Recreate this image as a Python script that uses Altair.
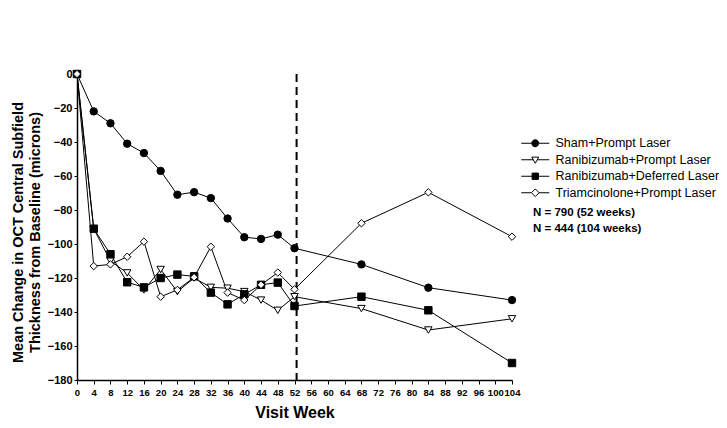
import altair as alt
import pandas as pd

weeks = [0, 4, 8, 12, 16, 20, 24, 28, 32, 36, 40, 44, 48, 52, 68, 84, 104]
series_names = [
    "Sham+Prompt Laser",
    "Ranibizumab+Prompt Laser",
    "Ranibizumab+Deferred Laser",
    "Triamcinolone+Prompt Laser",
]
sham = [0, -22, -29, -41, -46.5, -57, -71, -69.5, -73, -85, -96, -97, -94.5, -102.5, -112, -125.7, -133]
rani_prompt = [0, -91, -110, -117, -127, -115, -128, -120, -125.5, -126, -128, -133, -139, -131, -138, -150.6, -144]
rani_deferred = [0, -91, -106, -122.5, -125.5, -120, -118, -119, -128.6, -135.5, -129.6, -124, -122.7, -136.5, -131, -139, -170]
triam = [0, -113, -112, -107.5, -98.6, -131, -127, -119.6, -101.6, -128.6, -133, -124, -116.8, -126.7, -87.8, -69.6, -95.7]
notes = ["N = 790 (52 weeks)", "N = 444 (104 weeks)"]
x_ticks = list(range(0, 105, 4))
y_ticks = list(range(-180, 1, 20))
cutoff_week = 52.5

rows = []
for name, vals in zip(series_names, [sham, rani_prompt, rani_deferred, triam]):
    for i, (w, v) in enumerate(zip(weeks, vals)):
        rows.append({"week": w, "value": v, "series": name, "idx": i})
df = pd.DataFrame(rows)

FONT = "Liberation Sans"
fills = ["black", "white", "black", "white"]
strokes = ["black", "black", "black", "black"]
plot_shapes = ["circle", "triangle-down", "square", "diamond"]
legend_shapes = [
    "M-4,0H-1M1,0H4M-1,0A1,1,0,1,1,1,0A1,1,0,1,1,-1,0Z",
    "M-4,0H-0.55M0.55,0H4M-1,-0.75L1,-0.75L0,1Z",
    "M-4,0H-0.9M0.9,0H4M-0.9,-0.9H0.9V0.9H-0.9Z",
    "M-4,0H-1.1M1.1,0H4M0,-1.1L1.1,0L0,1.1L-1.1,0Z",
]

xscale = alt.Scale(domain=[0, 104], nice=False, zero=False)
yscale = alt.Scale(domain=[-180, 0], nice=False)

xaxis = alt.Axis(values=x_ticks, title="Visit Week", labelOverlap=False,
                 labelFlush=False, format="d", tickSize=4, labelPadding=3,
                 labelFontSize=9.5,
                 titleFontSize=16, titleY=40, titleBaseline="bottom")
yaxis = alt.Axis(values=y_ticks, format="d", tickSize=3, labelOverlap=False,
                 labelFlush=False,
                 title=["Mean Change in OCT Central Subfield",
                        "Thickness from Baseline (microns)"],
                 titleFontSize=14.5, titleX=-52, titleY=158,
                 titleLineHeight=17)
X = alt.X("week:Q", scale=xscale, axis=xaxis)
Y = alt.Y("value:Q", scale=yscale, axis=yaxis)

base = alt.Chart(df)

lines = base.mark_line(color="black", strokeWidth=1).encode(
    x=X, y=Y, detail="series:N", order="idx:Q",
)

points = base.mark_point(stroke="black", strokeWidth=1, fillOpacity=1, opacity=1, size=55).encode(
    x=X, y=Y,
    shape=alt.Shape("series:N", scale=alt.Scale(domain=series_names, range=plot_shapes), legend=None),
    fill=alt.Fill("series:N", scale=alt.Scale(domain=series_names, range=fills), legend=None),
)

leg = alt.Legend(title=None, orient="none", legendX=452, legendY=63,
                 symbolSize=49, labelOffset=14, rowPadding=3.5, labelLimit=400,
                 labelFontSize=12.5, labelFont=FONT, labelColor="black",
                 symbolStrokeColor="black", symbolStrokeWidth=1)

legend_layer = base.transform_filter("datum.week < 0").mark_point(
    stroke="black", strokeWidth=1, fillOpacity=1, opacity=1
).encode(
    x=X, y=Y,
    shape=alt.Shape("series:N", scale=alt.Scale(domain=series_names, range=legend_shapes), legend=leg),
    fill=alt.Fill("series:N", scale=alt.Scale(domain=series_names, range=fills), legend=leg),
    stroke=alt.Stroke("series:N", scale=alt.Scale(domain=series_names, range=strokes), legend=leg),
)

rule = base.transform_filter("datum.idx == 0 && datum.series == 'Sham+Prompt Laser'").mark_rule(
    color="black", strokeWidth=2, strokeDash=[8, 5]
).encode(
    x=alt.XDatum(cutoff_week, type="quantitative", scale=xscale, axis=xaxis),
    y=alt.value(0), y2=alt.value(306),
)

note = alt.Chart(pd.DataFrame({"t": [0]})).mark_text(
    align="left", baseline="middle", font=FONT, fontWeight="bold", fontSize=11.5, lineHeight=16
).encode(x=alt.value(456), y=alt.value(139), text=alt.value(notes))

chart = alt.layer(lines, rule, points, legend_layer, note).resolve_scale(
    shape="independent", fill="independent", stroke="independent"
).properties(
    width=435, height=306,
    autosize=alt.AutoSizeParams(type="none"),
    padding={"left": 69, "top": 66, "right": 207, "bottom": 40},
).configure_view(stroke=None).configure_axis(
    grid=False, domainColor="black", domainWidth=1.5, tickColor="black",
    labelColor="black", titleColor="black", labelFont=FONT, titleFont=FONT,
    labelFontWeight="bold", titleFontWeight="bold", labelFontSize=11,
)

chart.save("out.html", embed_options={"renderer": "svg", "actions": False})
